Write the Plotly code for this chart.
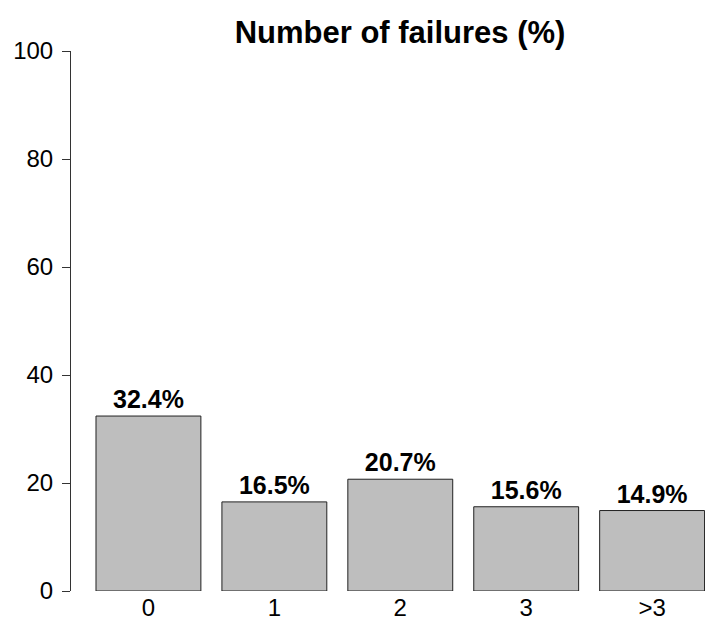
import plotly.graph_objects as go

categories = ["0", "1", "2", "3", ">3"]
values = [32.4, 16.5, 20.7, 15.6, 14.9]
y_ticks = [0, 20, 40, 60, 80, 100]

FONT = "Liberation Sans, Arial, Helvetica, sans-serif"

FIG_W, FIG_H = 705, 617

fig = go.Figure()
fig.add_trace(go.Bar(
    x=categories,
    y=values,
    width=0.833,
    marker=dict(color="#BEBEBE", line=dict(color="#222222", width=1)),
    texttemplate="%{y:.1f}%",
    textposition="outside",
    textfont=dict(family=FONT, size=25, color="black", weight="bold"),
    cliponaxis=False,
    constraintext="none",
))

fig.update_layout(
    width=FIG_W,
    height=FIG_H,
    margin=dict(l=71, r=0, t=51, b=26, autoexpand=False),
    paper_bgcolor="white",
    plot_bgcolor="white",
    showlegend=False,
    title=dict(
        text="Number of failures (%)",
        font=dict(family=FONT, size=31, color="black", weight="bold"),
        x=400 / FIG_W,
        xref="container",
        xanchor="center",
        y=1 - 32 / FIG_H,
        yref="container",
        yanchor="middle",
    ),
    xaxis=dict(
        type="category",
        range=[-0.615, 4.42],
        showline=False,
        showgrid=False,
        zeroline=False,
        ticks="",
        automargin=False,
        tickfont=dict(family=FONT, size=24, color="black"),
        fixedrange=True,
    ),
    yaxis=dict(
        range=[0, 100],
        tickvals=y_ticks,
        ticktext=[str(v) for v in y_ticks],
        showline=True,
        linecolor="#333333",
        linewidth=1,
        ticks="outside",
        ticklen=8,
        tickcolor="#333333",
        ticklabelstandoff=4,
        showgrid=False,
        zeroline=False,
        automargin=False,
        tickfont=dict(family=FONT, size=24, color="black"),
    ),
)

fig.write_html(
    "out.html",
    config={"displayModeBar": False},
    post_script="document.body.style.margin='0';document.body.style.overflow='hidden';",
)
